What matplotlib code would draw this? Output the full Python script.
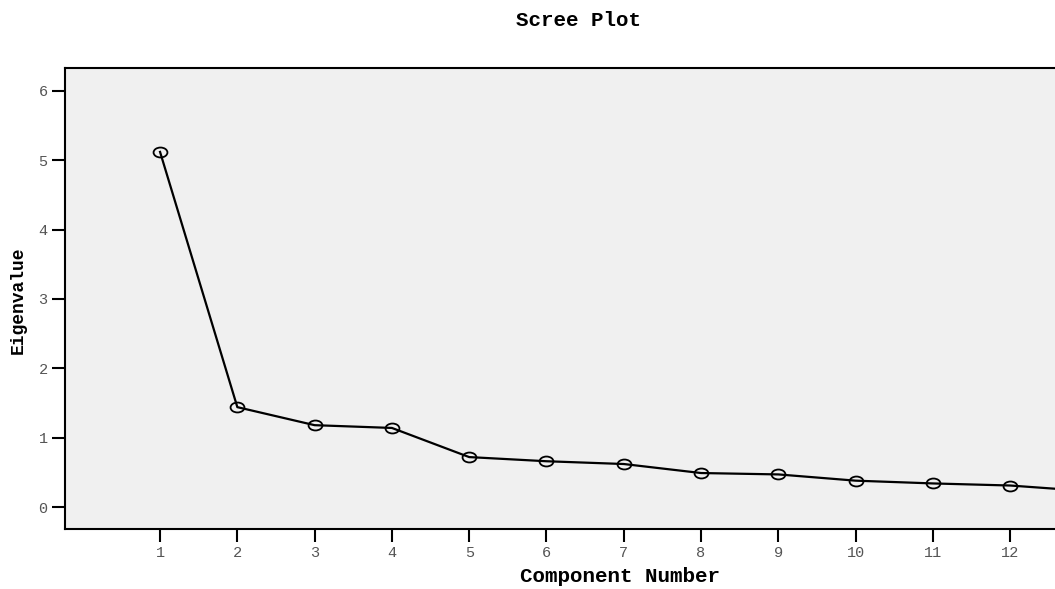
import numpy as np
import matplotlib.pyplot as plt
from matplotlib.path import Path
from matplotlib.transforms import Affine2D

# Scree plot values (component 13 runs off the right edge)
components = [1, 2, 3, 4, 5, 6, 7, 8, 9, 10, 11, 12, 13]
eigenvalues = [5.12, 1.44, 1.18, 1.14, 0.72, 0.66, 0.62, 0.49, 0.47, 0.38, 0.34, 0.31, 0.23]
x_ticks = [1, 2, 3, 4, 5, 6, 7, 8, 9, 10, 11, 12]
y_ticks = [0, 1, 2, 3, 4, 5, 6]

mono = "Liberation Mono"
tick_grey = "#555555"

fig = plt.figure(figsize=(10.55, 5.89), dpi=100)
ax = fig.add_axes([65 / 1055, 1 - 529 / 589, 990 / 1055, (529 - 68) / 589])
ax.set_facecolor("#f0f0f0")

# SPSS draws the points as flat ellipses
ellipse = Path.unit_circle().transformed(Affine2D().scale(1.4, 1.0))
ax.plot(components, eigenvalues, color="black", lw=1.6,
        marker=ellipse, markersize=10, markerfacecolor="none",
        markeredgecolor="black", markeredgewidth=1.3)

ax.set_xlim(-0.23, 12.58)
ax.set_ylim(-0.317, 6.33)
ax.set_xticks(x_ticks)
ax.set_yticks(y_ticks)
ax.tick_params(length=9.5, width=1.5, color="black", labelcolor=tick_grey,
               labelsize=11, pad=3)
for lab in ax.get_xticklabels() + ax.get_yticklabels():
    lab.set_family(mono)

for side in ["left", "top", "bottom"]:
    ax.spines[side].set_linewidth(1.5)
ax.spines["right"].set_visible(False)

fig.text(578 / 1055, 1 - 21 / 589, "Scree Plot", ha="center", va="center",
         family=mono, fontweight="bold", fontsize=15)
ax.set_xlabel("Component Number", family=mono, fontweight="bold", fontsize=15)
ax.xaxis.set_label_coords((620 - 65) / 990, -(577 - 529) / 461)
ax.xaxis.label.set_va("center")
ax.set_ylabel("Eigenvalue", family=mono, fontweight="bold", fontsize=13)
ax.yaxis.set_label_coords(-(65 - 18) / 990, (529 - 300) / 461)
ax.yaxis.label.set_va("center")

fig.savefig("out.png", dpi=100)
